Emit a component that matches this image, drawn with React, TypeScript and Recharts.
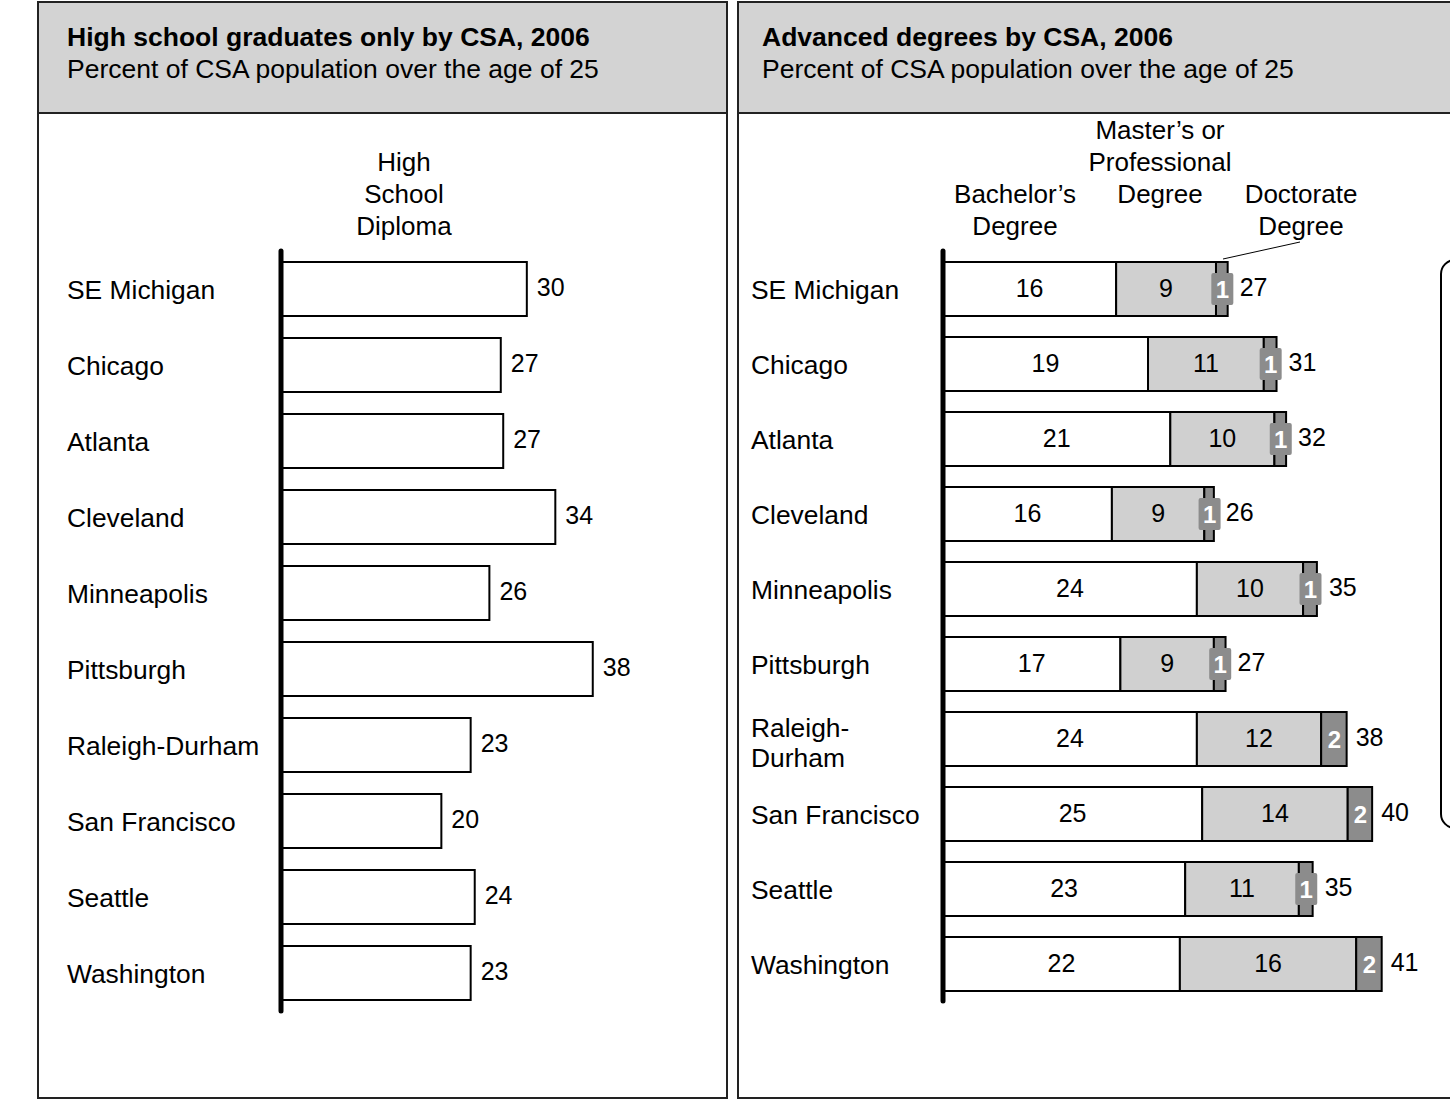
import React from 'react';
import { BarChart, Bar, XAxis, YAxis, LabelList } from 'recharts';

const FONT = '"Liberation Sans", Arial, Helvetica, sans-serif';

// ---- data ----
const cities = [
  'SE Michigan',
  'Chicago',
  'Atlanta',
  'Cleveland',
  'Minneapolis',
  'Pittsburgh',
  'Raleigh-Durham',
  'San Francisco',
  'Seattle',
  'Washington',
];

const hsValues = [30.2, 27.0, 27.3, 33.7, 25.6, 38.3, 23.3, 19.7, 23.8, 23.3];
const hsLabels = [30, 27, 27, 34, 26, 38, 23, 20, 24, 23];

const bachelorValues = [16.3, 19.3, 21.4, 15.9, 23.9, 16.7, 23.9, 24.4, 22.8, 22.3];
const bachelorLabels = [16, 19, 21, 16, 24, 17, 24, 25, 23, 22];
const masterValues = [9.4, 10.9, 9.8, 8.7, 10.0, 8.8, 11.7, 13.7, 10.7, 16.6];
const masterLabels = [9, 11, 10, 9, 10, 9, 12, 14, 11, 16];
const doctorateValues = [1.1, 1.2, 1.1, 0.9, 1.3, 1.1, 2.4, 2.3, 1.3, 2.4];
const doctorateLabels = [1, 1, 1, 1, 1, 1, 2, 2, 1, 2];
const totalLabels = [27, 31, 32, 26, 35, 27, 38, 40, 35, 41];

const hsData = cities.map((city, i) => ({ city, hs: hsValues[i], label: hsLabels[i] }));
const degData = cities.map((city, i) => ({
  city,
  bachelor: bachelorValues[i],
  master: masterValues[i],
  doctorate: doctorateValues[i],
  bLabel: bachelorLabels[i],
  mLabel: masterLabels[i],
  dLabel: doctorateLabels[i],
  total: totalLabels[i],
}));

// ---- helpers ----
const box = (p: any) => {
  const vb = p.viewBox || {};
  const x = Number(p.x ?? vb.x);
  const y = Number(p.y ?? vb.y);
  const width = Number(p.width ?? vb.width);
  const height = Number(p.height ?? vb.height);
  return { x, y, width, height };
};

const makeCityTick = (labelX: number, wrap: boolean) => (props: any) => {
  const { y, payload } = props;
  const text = String(payload.value);
  if (wrap && text.length > 13 && text.includes('-')) {
    const k = text.indexOf('-') + 1;
    return (
      <text x={labelX} y={y} fontSize={26.4} fontFamily={FONT} fill="#000">
        <tspan x={labelX} dy={-2}>{text.slice(0, k)}</tspan>
        <tspan x={labelX} dy={30}>{text.slice(k)}</tspan>
      </text>
    );
  }
  return (
    <text x={labelX} y={Number(y) + 10} fontSize={26.4} fontFamily={FONT} fill="#000">
      {text}
    </text>
  );
};

const rightValueLabel = (gap: number) => (props: any) => {
  const { x, y, width, height } = box(props);
  return (
    <text x={x + width + gap} y={y + height / 2 + 7} fontSize={25} fontFamily={FONT} fill="#000">
      {props.value}
    </text>
  );
};

const centerLabel = (props: any) => {
  const { x, y, width, height } = box(props);
  return (
    <text
      x={x + width / 2}
      y={y + height / 2 + 8}
      fontSize={25}
      fontFamily={FONT}
      fill="#000"
      textAnchor="middle"
    >
      {props.value}
    </text>
  );
};

const docLabel = (props: any) => {
  const { x, y, width, height } = box(props);
  const cx = x + width / 2 + 0.5;
  const cy = y + height / 2;
  const narrow = width < 20;
  return (
    <g>
      {narrow && <rect x={cx - 11} y={cy - 16} width={22} height={32} rx={2} fill="#8c8c8c" />}
      <text
        x={cx}
        y={cy + 9}
        fontSize={24}
        fontWeight="bold"
        fontFamily={FONT}
        fill="#fff"
        textAnchor="middle"
      >
        {props.value}
      </text>
    </g>
  );
};

const totalLabel = (props: any) => {
  const { x, y, width, height } = box(props);
  const gap = width < 20 ? 12 : 9;
  return (
    <text x={x + width + gap} y={y + height / 2 + 7} fontSize={25} fontFamily={FONT} fill="#000">
      {props.value}
    </text>
  );
};

const axisLineStyle = { stroke: '#000', strokeWidth: 5, strokeLinecap: 'round' as const };

export default function App() {
  return (
    <div
      style={{
        position: 'absolute',
        left: 0,
        top: 0,
        width: 1450,
        height: 1099,
        overflow: 'hidden',
        background: '#fff',
        fontFamily: FONT,
      }}
    >
      {/* panels */}
      <svg width={1450} height={1099} style={{ position: 'absolute', left: 0, top: 0 }}>
        <rect x={38} y={2} width={689} height={111} fill="#d3d3d3" />
        <rect x={38} y={2} width={689} height={1096} fill="none" stroke="#222" strokeWidth={2} />
        <line x1={38} y1={113} x2={727} y2={113} stroke="#222" strokeWidth={2} />
        <rect x={738} y={2} width={760} height={111} fill="#d3d3d3" />
        <rect x={738} y={2} width={760} height={1096} fill="none" stroke="#222" strokeWidth={2} />
        <line x1={738} y1={113} x2={1450} y2={113} stroke="#222" strokeWidth={2} />

        <text x={67} y={46} fontSize={26.5} fontWeight="bold" fontFamily={FONT} fill="#000">
          High school graduates only by CSA, 2006
        </text>
        <text x={67} y={78} fontSize={26.5} fontFamily={FONT} fill="#000">
          Percent of CSA population over the age of 25
        </text>
        <text x={762} y={46} fontSize={26.5} fontWeight="bold" fontFamily={FONT} fill="#000">
          Advanced degrees by CSA, 2006
        </text>
        <text x={762} y={78} fontSize={26.5} fontFamily={FONT} fill="#000">
          Percent of CSA population over the age of 25
        </text>

        <g fontSize={26} fontFamily={FONT} fill="#000" textAnchor="middle">
          <text x={404} y={171}>High</text>
          <text x={404} y={203}>School</text>
          <text x={404} y={235}>Diploma</text>

          <text x={1160} y={139}>Master’s or</text>
          <text x={1160} y={171}>Professional</text>
          <text x={1160} y={203}>Degree</text>

          <text x={1015} y={203}>Bachelor’s</text>
          <text x={1015} y={235}>Degree</text>

          <text x={1301} y={203}>Doctorate</text>
          <text x={1301} y={235}>Degree</text>
        </g>
        <line x1={1300} y1={242} x2={1223} y2={259} stroke="#000" strokeWidth={1} />

        <rect x={1441} y={260} width={120} height={568} rx={14} fill="none" stroke="#000" strokeWidth={2} />
      </svg>

      {/* left chart */}
      <div style={{ position: 'absolute', left: 0, top: 0 }}>
        <BarChart
          width={727}
          height={1099}
          data={hsData}
          layout="vertical"
          margin={{ top: 251, bottom: 88, left: 67, right: 39 }}
        >
          <XAxis type="number" domain={[0, 50]} hide />
          <YAxis
            type="category"
            dataKey="city"
            width={214}
            interval={0}
            tickLine={false}
            axisLine={axisLineStyle}
            tick={makeCityTick(67, false)}
          />
          <Bar dataKey="hs" fill="#fff" stroke="#000" strokeWidth={2} barSize={54} isAnimationActive={false}>
            <LabelList dataKey="label" content={rightValueLabel(10)} />
          </Bar>
        </BarChart>
      </div>

      {/* right chart */}
      <div style={{ position: 'absolute', left: 738, top: 0 }}>
        <BarChart
          width={712}
          height={1099}
          data={degData}
          layout="vertical"
          margin={{ top: 251, bottom: 98, left: 13, right: 29 }}
        >
          <XAxis type="number" domain={[0, 45]} hide />
          <YAxis
            type="category"
            dataKey="city"
            width={192}
            interval={0}
            tickLine={false}
            axisLine={axisLineStyle}
            tick={makeCityTick(13, true)}
          />
          <Bar dataKey="bachelor" stackId="a" fill="#fff" stroke="#000" strokeWidth={2} barSize={54} isAnimationActive={false}>
            <LabelList dataKey="bLabel" content={centerLabel} />
          </Bar>
          <Bar dataKey="master" stackId="a" fill="#d0d0d0" stroke="#000" strokeWidth={2} barSize={54} isAnimationActive={false}>
            <LabelList dataKey="mLabel" content={centerLabel} />
          </Bar>
          <Bar dataKey="doctorate" stackId="a" fill="#8c8c8c" stroke="#000" strokeWidth={2} barSize={54} isAnimationActive={false}>
            <LabelList dataKey="dLabel" content={docLabel} />
            <LabelList dataKey="total" content={totalLabel} />
          </Bar>
        </BarChart>
      </div>
    </div>
  );
}
